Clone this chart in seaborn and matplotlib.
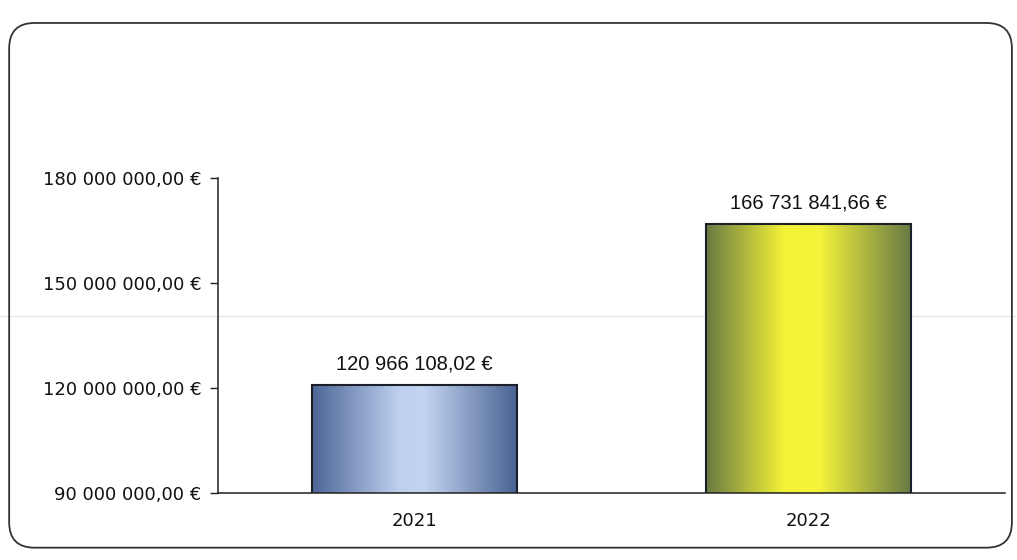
import numpy as np
import pandas as pd
import matplotlib
matplotlib.use("Agg")
import matplotlib.pyplot as plt
import seaborn as sns
from matplotlib.patches import FancyBboxPatch
from matplotlib.colors import LinearSegmentedColormap
from matplotlib.lines import Line2D

years = ["2021", "2022"]
values = [120966108.02, 166731841.66]
bar_labels = ["120 966 108,02 €", "166 731 841,66 €"]
yticks = [90000000, 120000000, 150000000, 180000000]
ytick_labels = ["90 000 000,00 €", "120 000 000,00 €", "150 000 000,00 €", "180 000 000,00 €"]

sns.set_theme(style="white")
plt.rcParams['font.family'] = ['DejaVu Sans']

fig = plt.figure(figsize=(10.17, 5.6), dpi=100)
fig.patch.set_facecolor("white")

# rounded frame around chart
frame = FancyBboxPatch((0.009, 0.022), 0.986, 0.937, boxstyle="round,pad=0,rounding_size=0.025",
                       transform=fig.transFigure, facecolor="none", edgecolor="#333333",
                       linewidth=1.3, mutation_aspect=1017/560, zorder=-1)
fig.patches.append(frame)
# faint scan line
fig.add_artist(Line2D([0.0, 1.0], [1 - 316/560, 1 - 316/560], transform=fig.transFigure,
                      color="#e4e4e4", linewidth=0.8, zorder=-1))

ax = fig.add_axes([218/1017, 1 - 493/560, (1005 - 218)/1017, (493 - 178)/560])
ax.set_facecolor("none")
ax.set_zorder(2)

df = pd.DataFrame({"year": years, "value": values})
sns.barplot(data=df, x="year", y="value", ax=ax, width=0.52, color="white",
            edgecolor="#1a1f2a", linewidth=1.5, zorder=3)

ax.set_ylim(90000000, 180000000)
ax.set_xlim(-0.5, 1.5)

cmaps = [
    LinearSegmentedColormap.from_list("b", [(0, "#4d6697"), (0.42, "#bccfee"), (0.55, "#c2d4f0"), (1, "#4a6392")]),
    LinearSegmentedColormap.from_list("y", [(0, "#6a7b45"), (0.38, "#f3f236"), (0.55, "#f6f43a"), (1, "#687a46")]),
]
for patch, cm in zip(ax.patches, cmaps):
    x0, y0 = patch.get_x(), 90000000
    w, h = patch.get_width(), patch.get_height()
    grad = np.linspace(0, 1, 256).reshape(1, -1)
    im = ax.imshow(grad, cmap=cm, aspect="auto", extent=[x0, x0 + w, y0, patch.get_y() + h],
                   zorder=2.5, interpolation="bicubic")
    im.set_clip_path(patch)
    patch.set_facecolor("none")
ax.set_xlim(-0.5, 1.5)
ax.set_ylim(90000000, 180000000)

for i, (v, lab) in enumerate(zip(values, bar_labels)):
    ax.text(i, v + 3300000, lab, ha="center", va="bottom", fontsize=14.5,
            family="Liberation Sans", color="#111111")

ax.set_yticks(yticks)
ax.set_yticklabels(ytick_labels, fontsize=13, color="#111111")
ax.set_xticks([0, 1])
ax.set_xticklabels(years, fontsize=13, color="#111111")
ax.set_xticks([-0.5, 0.5, 1.5], minor=True)
ax.tick_params(axis="x", which="major", length=0, pad=14)
ax.tick_params(axis="x", which="minor", length=6, width=1, color="#222222", direction="out")
ax.tick_params(axis="y", which="major", length=6, width=1, color="#222222", direction="out", pad=6, left=True)
ax.set_xlabel("")
ax.set_ylabel("")
for s in ["top", "right"]:
    ax.spines[s].set_visible(False)
for s in ["left", "bottom"]:
    ax.spines[s].set_color("#222222")
    ax.spines[s].set_linewidth(1.1)

fig.savefig("out.png", dpi=100)
